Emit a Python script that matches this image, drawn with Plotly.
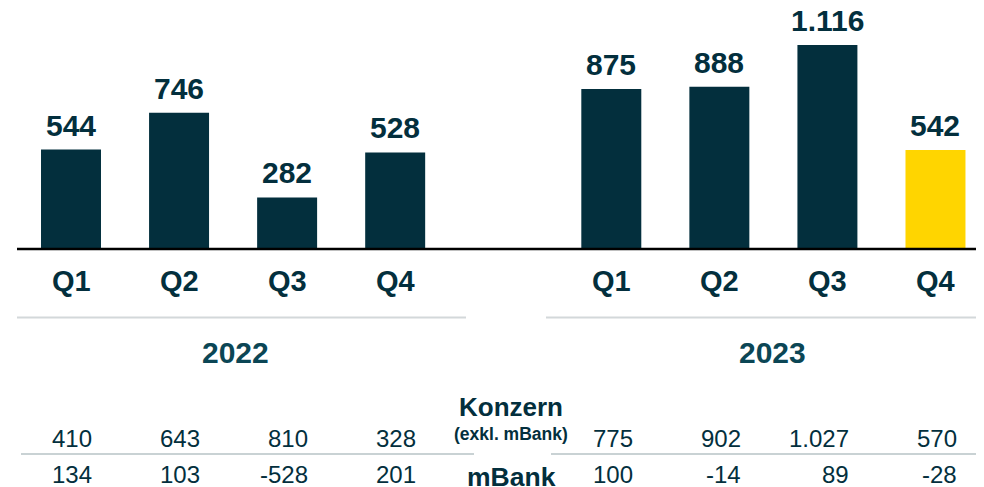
import plotly.graph_objects as go

# data
quarters = ["Q1", "Q2", "Q3", "Q4"]
years = ["2022", "2023"]
result_2022 = [544, 746, 282, 528]
result_2023 = [875, 888, 1116, 542]
konzern_2022 = [410, 643, 810, 328]
konzern_2023 = [775, 902, 1027, 570]
mbank_2022 = [134, 103, -528, 201]
mbank_2023 = [100, -14, 89, -28]

DARK = "#032f3d"
TEAL = "#0b4655"
GOLD = "#ffd500"
FONT = "Liberation Sans, Arial, sans-serif"
OFF = 8  # page body margin
W, H = 984 - OFF, 487 - OFF


def py(pix):
    # screen pixel row -> paper y
    return 1 - (pix - OFF) / H


def pxx(pix):
    # screen pixel column -> paper x
    return (pix - OFF) / W


def fmt(v):
    return f"{v:,}".replace(",", ".")


slots_2022 = [0, 1, 2, 3]
slots_2023 = [5, 6, 7, 8]
x_all = slots_2022 + slots_2023
y_all = result_2022 + result_2023
colors = [DARK] * 7 + [GOLD]

fig = go.Figure(go.Bar(
    x=x_all,
    y=y_all,
    width=0.555,
    marker=dict(color=colors, line=dict(width=0)),
    hoverinfo="skip"
))

ann = []
for x, v in zip(x_all, y_all):
    ann.append(dict(x=x, y=v, xref="x", yref="y", text=f"<b>{fmt(v)}</b>",
                    yanchor="bottom", yshift=6, showarrow=False,
                    font=dict(size=30, color=DARK, family=FONT)))


def label(x, pix_y, text, size, color=DARK, **kw):
    ann.append(dict(x=x, y=py(pix_y), xref="x", yref="paper", text=text,
                    yanchor="middle", showarrow=False,
                    font=dict(size=size, color=color, family=FONT), **kw))


for slots in (slots_2022, slots_2023):
    for x, q in zip(slots, quarters):
        label(x, 281, f"<b>{q}</b>", 29)

label(1.518, 352, f"<b>{years[0]}</b>", 30, TEAL)
label(6.496, 352, f"<b>{years[1]}</b>", 30, TEAL)

label(4.072, 407, "<b>Konzern</b>", 26)
label(4.072, 434, "<b>(exkl. mBank)</b>", 17.5)
label(4.072, 477, "<b>mBank</b>", 26.5)

rows = [(konzern_2022 + konzern_2023, 438), (mbank_2022 + mbank_2023, 474)]
for vals, row_y in rows:
    for x, v in zip(x_all, vals):
        label(x + 0.215, row_y, fmt(v), 24, xanchor="right")

shapes = [
    dict(type="line", xref="paper", yref="y", x0=pxx(17), x1=1, y0=0, y1=0,
         line=dict(color="#000000", width=2.5)),
    dict(type="line", xref="paper", yref="paper", x0=pxx(17), x1=pxx(466),
         y0=py(317.5), y1=py(317.5), line=dict(color="#d3d8da", width=2)),
    dict(type="line", xref="paper", yref="paper", x0=pxx(546), x1=1,
         y0=py(317.5), y1=py(317.5), line=dict(color="#d3d8da", width=2)),
    dict(type="line", xref="paper", yref="paper", x0=pxx(21), x1=pxx(474),
         y0=py(454), y1=py(454), line=dict(color="#c9d2d4", width=2)),
    dict(type="line", xref="paper", yref="paper", x0=pxx(551), x1=1,
         y0=py(454), y1=py(454), line=dict(color="#c9d2d4", width=2)),
]

fig.update_layout(
    width=W,
    height=H,
    margin=dict(l=0, r=0, t=0, b=0),
    paper_bgcolor="white",
    plot_bgcolor="white",
    showlegend=False,
    separators=",.",
    xaxis=dict(range=[-0.583, 8.449], visible=False, fixedrange=True),
    yaxis=dict(range=[-1302, 1318.4], visible=False, fixedrange=True),
    annotations=ann,
    shapes=shapes,
)

fig.write_html("out.html", config={"displayModeBar": False})
